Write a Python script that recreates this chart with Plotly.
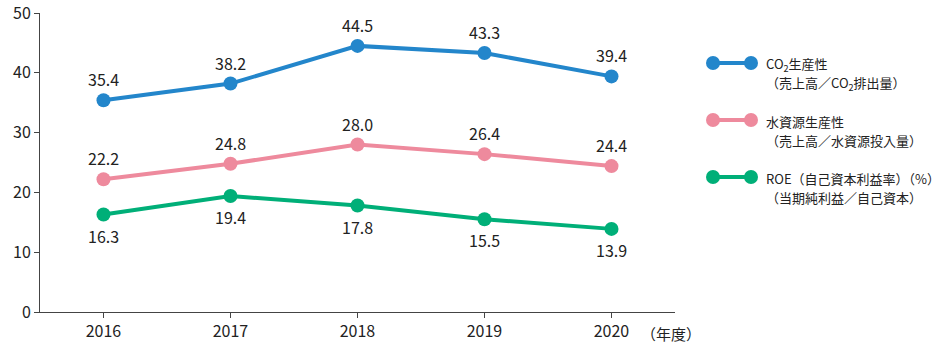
import plotly.graph_objects as go

years = ["2016", "2017", "2018", "2019", "2020"]
co2 = [35.4, 38.2, 44.5, 43.3, 39.4]
water = [22.2, 24.8, 28.0, 26.4, 24.4]
roe = [16.3, 19.4, 17.8, 15.5, 13.9]

series = [
    (co2, "#2386CB", 1, ["CO<sub>2</sub>生産性", "（売上高／CO<sub>2</sub>排出量）"]),
    (water, "#EE8A9D", 1, ["水資源生産性", "（売上高／水資源投入量）"]),
    (roe, "#00AF78", -1, ["ROE（自己資本利益率）（%）", "（当期純利益／自己資本）"]),
]

FONT = "Noto Sans CJK JP, Noto Sans, sans-serif"
W, H = 942, 348
L, T, B = 40, 13, 36
plot_w = W - L
plot_h = H - T - B
main_right = 675

fig = go.Figure()
annotations = []
for vals, color, side, _ in series:
    fig.add_trace(go.Scatter(
        x=years, y=vals, mode="lines+markers",
        line=dict(color=color, width=4),
        marker=dict(color=color, size=14),
        showlegend=False, hoverinfo="skip", cliponaxis=False,
    ))
    for i, v in enumerate(vals):
        annotations.append(dict(
            x=i, y=v, xref="x", yref="y", text=f"{v:.1f}", showarrow=False,
            yshift=21 * side, font=dict(size=16, color="#222", family=FONT),
        ))

# custom legend on a hidden secondary axis measured in pixels
leg_rows = [63, 120, 177]
for (vals, color, side, labels), py in zip(series, leg_rows):
    fig.add_trace(go.Scatter(
        x=[713, 751], y=[py, py], xaxis="x2", yaxis="y2",
        mode="lines+markers", line=dict(color=color, width=4),
        marker=dict(color=color, size=14), showlegend=False, hoverinfo="skip",
        cliponaxis=False,
    ))
    for i, lab in enumerate(labels):
        annotations.append(dict(
            x=764, y=py + 1 + i * 19, xref="x2", yref="y2", text=lab,
            showarrow=False, xanchor="left", yanchor="middle",
            font=dict(size=13, color="#222", family=FONT),
        ))

annotations.append(dict(
    x=(639 - L) / plot_w, y=(H - B - 333) / plot_h, xref="paper", yref="paper",
    text="（年度）", showarrow=False,
    xanchor="left", yanchor="middle", font=dict(size=15, color="#222", family=FONT),
))

dom_main = (main_right - L) / plot_w

fig.update_layout(
    width=W, height=H,
    margin=dict(l=L, r=0, t=T, b=B, pad=0),
    paper_bgcolor="white", plot_bgcolor="rgba(0,0,0,0)",
    font=dict(family=FONT, size=16, color="#222"),
    annotations=annotations,
    xaxis=dict(
        domain=[0, dom_main], type="category", range=[-0.5, 4.5],
        showgrid=False, zeroline=False, showline=True, linecolor="#444", linewidth=1,
        ticks="outside", ticklen=5, tickcolor="#444", ticklabeloverflow="allow",
        tickfont=dict(size=16, family=FONT, color="#222"),
    ),
    yaxis=dict(
        range=[0, 50], dtick=10, showgrid=False, zeroline=False,
        showline=True, linecolor="#444", linewidth=1,
        ticks="outside", ticklen=5, tickcolor="#444", ticklabeloverflow="allow",
        tickfont=dict(size=16, family=FONT, color="#222"),
    ),
    xaxis2=dict(domain=[0, 1], range=[L, W], visible=False, fixedrange=True,
                anchor="y2"),
    yaxis2=dict(domain=[0, 1], range=[H - B, T], visible=False, fixedrange=True,
                anchor="x2"),
)

fig.write_html("out.html")
